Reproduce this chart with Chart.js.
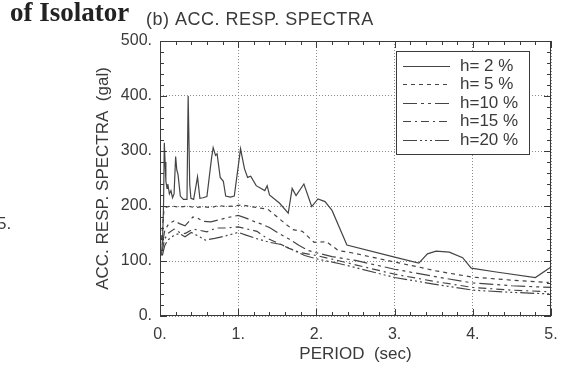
<!DOCTYPE html>
<html>
<head>
<meta charset="utf-8">
<script src="https://cdn.jsdelivr.net/npm/chart.js@4.4.0/dist/chart.umd.min.js"></script>
<style>
  html, body { margin: 0; padding: 0; background: #fff; }
  #wrap { position: relative; width: 573px; height: 375px; }
</style>
</head>
<body>
<div id="wrap"><canvas id="spectraChart"></canvas></div>
<script>
// valores (periodo en sec, aceleracion en gal)
const seriesLabels = ['h= 2 %', 'h= 5 %', 'h=10 %', 'h=15 %', 'h=20 %'];

const period02 = [0.02, 0.035, 0.045, 0.055, 0.065, 0.075, 0.09, 0.10, 0.12, 0.14, 0.16, 0.18, 0.20, 0.215, 0.23, 0.26, 0.30, 0.345, 0.36, 0.38, 0.395, 0.43, 0.48, 0.51, 0.55, 0.60, 0.66, 0.68, 0.71, 0.73, 0.77, 0.81, 0.84, 0.90, 0.95, 1.03, 1.08, 1.12, 1.16, 1.23, 1.34, 1.37, 1.40, 1.53, 1.64, 1.69, 1.74, 1.84, 1.94, 2.02, 2.11, 2.20, 2.39, 3.00, 3.31, 3.42, 3.53, 3.70, 3.87, 3.98, 4.30, 4.80, 4.99];
const accel02 = [110, 150, 200, 315, 280, 245, 232, 240, 222, 228, 215, 222, 290, 265, 258, 218, 212, 212, 400, 240, 214, 212, 253, 214, 215, 217, 288, 306, 292, 295, 252, 245, 218, 216, 218, 304, 268, 252, 254, 237, 228, 237, 220, 205, 187, 232, 219, 240, 199, 213, 208, 192, 129, 107, 96, 113, 118, 116, 106, 87, 80, 70, 88];

const period05 = [0.02, 0.05, 0.08, 0.15, 0.25, 0.35, 0.45, 0.55, 0.65, 0.75, 0.85, 0.95, 1.05, 1.15, 1.25, 1.38, 1.50, 1.60, 1.70, 1.82, 1.97, 2.13, 2.28, 2.45, 2.97, 3.31, 3.53, 3.98, 4.51, 4.97];
const accel05 = [140, 192, 198, 200, 198, 200, 197, 199, 197, 201, 199, 200, 202, 199, 197, 194, 180, 168, 157, 154, 134, 135, 119, 115, 99, 89, 82, 71, 65, 61];

const period10 = [0.03, 0.06, 0.10, 0.14, 0.18, 0.25, 0.32, 0.42, 0.48, 0.55, 0.65, 0.78, 0.90, 1.00, 1.10, 1.20, 1.30, 1.40, 1.52, 1.65, 1.78, 1.90, 2.00, 2.20, 2.50, 3.00, 3.50, 4.00, 4.50, 5.00];
const accel10 = [130, 155, 165, 170, 173, 168, 164, 180, 178, 172, 171, 176, 180, 183, 178, 172, 167, 161, 150, 140, 128, 119, 115, 108, 101, 85, 72, 60, 55, 52];

const period15 = [0.03, 0.06, 0.10, 0.18, 0.25, 0.32, 0.42, 0.50, 0.60, 0.72, 0.85, 1.00, 1.12, 1.24, 1.36, 1.50, 1.65, 1.80, 2.00, 2.30, 2.50, 3.00, 3.50, 4.00, 4.50, 5.00];
const accel15 = [120, 140, 150, 158, 152, 150, 158, 156, 153, 160, 160, 162, 158, 154, 142, 133, 123, 115, 110, 100, 93, 76, 63, 52, 47, 44];

const period20 = [0.03, 0.06, 0.10, 0.18, 0.25, 0.32, 0.40, 0.48, 0.58, 0.70, 0.85, 1.00, 1.10, 1.25, 1.40, 1.55, 1.70, 1.85, 2.00, 2.30, 2.50, 3.00, 3.50, 4.00, 4.50, 5.00];
const accel20 = [110, 128, 138, 147, 150, 144, 152, 146, 138, 141, 146, 152, 147, 140, 134, 130, 120, 110, 104, 95, 88, 70, 58, 47, 43, 40];

const lineDashes = [[], [4, 4], [14, 4, 3, 4, 3, 4], [8, 4, 2, 4], [14, 3, 2, 3, 2, 3, 2, 3]];

const INK = '#3a3a3a';
const FONT = '"Liberation Sans", Arial, sans-serif';

function toPoints(xs, ys) {
  return xs.map((x, i) => ({ x: x, y: ys[i] }));
}

const allSeries = [
  toPoints(period02, accel02),
  toPoints(period05, accel05),
  toPoints(period10, accel10),
  toPoints(period15, accel15),
  toPoints(period20, accel20)
];

// marco, ticks menores, leyenda y textos sueltos
const extras = {
  id: 'extras',
  afterDatasetsDraw(chart) {
    const ctx = chart.ctx;
    const area = chart.chartArea;
    const xs = chart.scales.x;
    const ys = chart.scales.y;
    ctx.save();
    ctx.strokeStyle = INK;
    ctx.lineWidth = 1;
    ctx.setLineDash([]);
    ctx.strokeRect(area.left + 0.5, area.top + 0.5, area.right - area.left - 1, area.bottom - area.top - 1);

    ctx.beginPath();
    for (let k = 0; k <= 25; k++) {
      const px = Math.round(xs.getPixelForValue(k * 0.2)) + 0.5;
      const len = k % 5 === 0 ? 7 : 4;
      ctx.moveTo(px, area.bottom); ctx.lineTo(px, area.bottom - len);
      ctx.moveTo(px, area.top); ctx.lineTo(px, area.top + len);
    }
    for (let k = 0; k <= 25; k++) {
      const py = Math.round(ys.getPixelForValue(k * 20)) + 0.5;
      const len = k % 5 === 0 ? 7 : 4;
      ctx.moveTo(area.left, py); ctx.lineTo(area.left + len, py);
      ctx.moveTo(area.right, py); ctx.lineTo(area.right - len, py);
    }
    ctx.stroke();

    // leyenda
    const bx = 396, by = 51, bw = 133, bh = 103;
    ctx.fillStyle = '#fff';
    ctx.fillRect(bx, by, bw, bh);
    ctx.strokeRect(bx + 0.5, by + 0.5, bw, bh);
    ctx.font = '17px ' + FONT;
    ctx.textBaseline = 'middle';
    ctx.textAlign = 'left';
    chart.data.datasets.forEach((ds, i) => {
      const yy = Math.round(by + 15 + i * 18.4) + 0.5;
      ctx.strokeStyle = ds.borderColor;
      ctx.lineWidth = ds.borderWidth;
      ctx.setLineDash(ds.borderDash);
      ctx.beginPath();
      ctx.moveTo(403, yy);
      ctx.lineTo(450, yy);
      ctx.stroke();
      ctx.setLineDash([]);
      ctx.fillStyle = INK;
      ctx.fillText(ds.label, 460, yy);
    });

    // textos
    ctx.fillStyle = INK;
    ctx.textBaseline = 'alphabetic';
    ctx.font = '18px ' + FONT;
    ctx.letterSpacing = '0.5px';
    ctx.fillText('(b) ACC. RESP. SPECTRA', 146, 25);
    ctx.letterSpacing = '0px';
    ctx.fillStyle = '#222';
    ctx.font = 'bold 27px "Liberation Serif", "Times New Roman", serif';
    ctx.fillText('of Isolator', 10, 21);
    ctx.fillStyle = INK;
    ctx.font = '17px ' + FONT;
    ctx.fillText('5.', -3, 229);
    ctx.restore();
  }
};

const ctx = document.getElementById('spectraChart').getContext('2d');
new Chart(ctx, {
  type: 'line',
  data: {
    datasets: allSeries.map((pts, i) => ({
      label: seriesLabels[i],
      data: pts,
      borderColor: '#444',
      borderWidth: 1.2,
      borderDash: lineDashes[i],
      pointRadius: 0,
      tension: 0,
      fill: false
    }))
  },
  options: {
    responsive: true,
    maintainAspectRatio: false,
    animation: false,
    layout: { padding: { left: 0, top: 41, right: 22, bottom: 0 } },
    plugins: {
      legend: { display: false },
      tooltip: { enabled: false }
    },
    scales: {
      x: {
        type: 'linear',
        min: 0,
        max: 5,
        ticks: {
          stepSize: 1,
          color: INK,
          font: { family: FONT, size: 16 },
          padding: 9,
          callback: v => v + '.'
        },
        grid: { color: '#8a8a8a', drawTicks: false, lineWidth: 1 },
        border: { display: false, dash: [1, 2] },
        title: {
          display: true,
          text: 'PERIOD  (sec)',
          color: INK,
          font: { family: FONT, size: 17 },
          padding: { top: 0, bottom: 10 }
        },
        afterFit: s => { s.height = 59; }
      },
      y: {
        min: 0,
        max: 500,
        ticks: {
          stepSize: 100,
          color: INK,
          font: { family: FONT, size: 16 },
          padding: 8,
          callback: v => v + '.'
        },
        grid: { color: '#8a8a8a', drawTicks: false, lineWidth: 1 },
        border: { display: false, dash: [1, 2] },
        title: {
          display: true,
          text: 'ACC. RESP. SPECTRA  (gal)',
          color: INK,
          font: { family: FONT, size: 17 },
          padding: { top: 93, bottom: 0 }
        },
        afterFit: s => { s.width = 160; }
      }
    }
  },
  plugins: [extras]
});
</script>
</body>
</html>
